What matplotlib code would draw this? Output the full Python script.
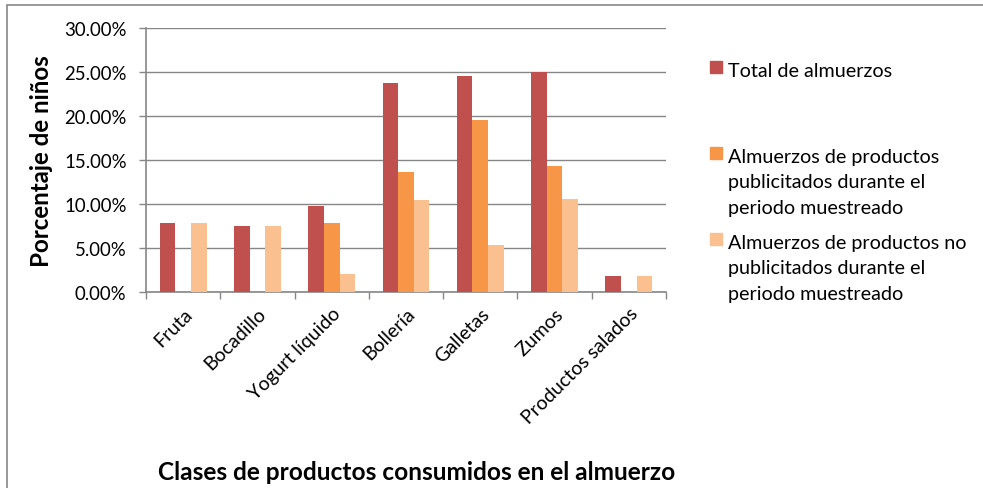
import matplotlib.pyplot as plt
import numpy as np
from matplotlib.patches import Rectangle
from matplotlib.ticker import FuncFormatter

plt.rcParams['font.family'] = ['Lato', 'DejaVu Sans']

# datos (porcentaje)
categorias = ["Fruta", "Bocadillo", "Yogurt líquido", "Bollería", "Galletas", "Zumos", "Productos salados"]
total = [7.8, 7.5, 9.8, 23.7, 24.5, 25.0, 1.8]
publicitados = [0, 0, 7.8, 13.6, 19.5, 14.3, 0]
no_publicitados = [7.8, 7.5, 2.0, 10.4, 5.3, 10.6, 1.8]

series = [total, publicitados, no_publicitados]
nombres = ["Total de almuerzos",
           "Almuerzos de productos\npublicitados durante el\nperiodo muestreado",
           "Almuerzos de productos no\npublicitados durante el\nperiodo muestreado"]
colores = ["#C0504D", "#F79646", "#FAC090"]

W, H = 983, 489
fig = plt.figure(figsize=(W / 100, H / 100), dpi=100)
ax = fig.add_axes([146 / W, 1 - 293 / H, (666 - 146) / W, (293 - 29) / H])

x = np.arange(len(categorias))
ancho = 0.21
for i, (vals, col) in enumerate(zip(series, colores)):
    ax.bar(x + (i - 1) * ancho, vals, ancho, color=col, zorder=3)

ax.set_xlim(-0.5, len(categorias) - 0.5)
ax.set_ylim(0, 30)
ax.set_yticks(np.arange(0, 31, 5))
ax.yaxis.set_major_formatter(FuncFormatter(lambda v, p: "%.2f%%" % v))
ax.grid(axis='y', color='#868686', linewidth=1.0, zorder=0)

ax.set_xticks(np.arange(-0.5, len(categorias), 1))
ax.set_xticklabels([])
ax.set_xticks(x, minor=True)
ax.set_xticklabels(categorias, minor=True, rotation=45, ha='right',
                   rotation_mode='anchor', fontsize=14)
ax.tick_params(axis='x', which='minor', length=0, pad=9)
ax.tick_params(axis='x', which='major', length=5, color='#868686', width=1)
ax.tick_params(axis='y', length=5, color='#868686', width=1, labelsize=13.4, pad=9)

for s in ['top', 'right']:
    ax.spines[s].set_visible(False)
for s in ['left', 'bottom']:
    ax.spines[s].set_color('#868686')
    ax.spines[s].set_linewidth(1.2)

ax.set_ylabel("Porcentaje de niños", fontsize=17.4, fontweight='bold', labelpad=8)
fig.text(417 / W, 1 - 473 / H, "Clases de productos consumidos en el almuerzo",
         fontsize=17.6, fontweight='bold', ha='center', va='center')

# leyenda a mano, como en Excel
ley_y = [68, 154, 240]
for yy, nom, col in zip(ley_y, nombres, colores):
    fig.patches.append(Rectangle((710 / W, 1 - (yy + 6) / H), 12 / W, 12 / H,
                                 transform=fig.transFigure, color=col))
    fig.text(728 / W, 1 - (yy - 5) / H, nom, fontsize=14.2, ha='left', va='top',
             linespacing=1.6)

# marco del grafico
fig.patches.append(Rectangle((7 / W, -0.1), 1.2, 1 - 6 / H + 0.1, transform=fig.transFigure,
                             fill=False, edgecolor='#868686', linewidth=1.2))

fig.savefig("out.png", dpi=100)
